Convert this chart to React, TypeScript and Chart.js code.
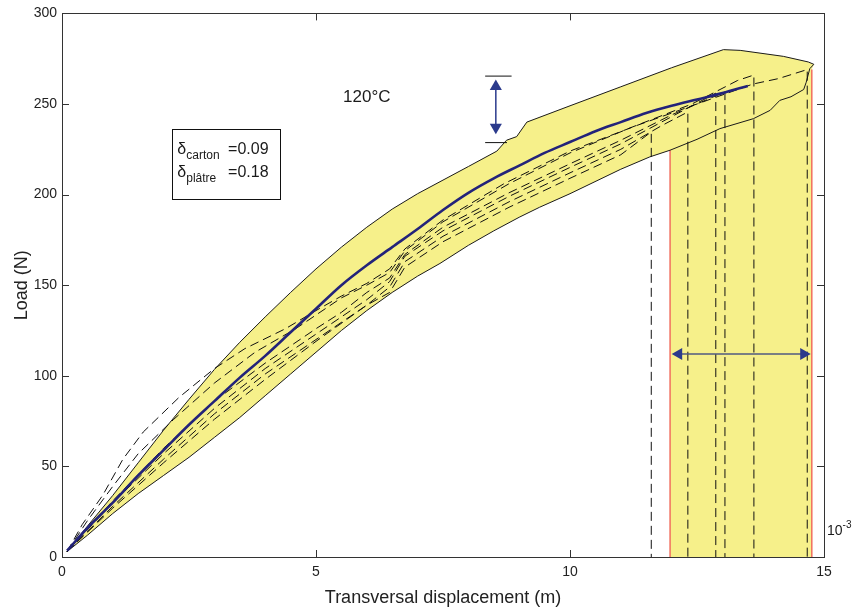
import React, { useEffect, useRef } from "react";
import { Chart, registerables } from "chart.js";

Chart.register(...registerables);
Chart.defaults.font.family = '"Liberation Sans", Arial, Helvetica, sans-serif';

// ---- axis ticks ----
const xTickValues = [0, 5, 10, 15];
const yTickValues = [0, 50, 100, 150, 200, 250, 300];

// ---- mean curve (solid blue) ----
const meanX = [0.1, 0.5, 1, 1.5, 2, 2.5, 3, 3.5, 4, 4.5, 5, 5.5, 6, 6.5, 7, 7.5, 8, 8.5, 9, 9.5, 10, 10.5, 11, 11.5, 12, 12.5, 13, 13.5];
const meanY = [3.5, 16, 30, 45, 59, 73, 86, 99, 111, 124, 137, 150, 161, 171, 181, 191.5, 201, 209, 216, 223, 229, 235, 240, 245, 249, 252.5, 256, 260];

// ---- confidence band ----
const upperX = [0.1, 0.5, 1, 1.5, 2, 2.5, 3, 3.5, 4, 4.5, 5, 5.5, 6, 6.5, 7, 7.5, 8, 8.56, 8.75, 8.95, 9.15, 10, 11, 12, 13.02, 13.35, 14.2, 14.69, 14.8];
const upperY = [3, 17, 34, 52, 70, 87, 103.5, 118.5, 132.5, 146, 159, 171, 182, 192, 200.5, 208, 215.5, 224, 230, 232, 240, 249, 259.5, 270, 280, 279.6, 276.3, 273.2, 271.9];
const rightX = [14.8, 14.72, 14.65, 14.6, 14.35, 14.13, 13.94, 13.61];
const rightY = [271.9, 269.5, 262, 258, 254, 252, 246.5, 241.9];
const lowerX = [13.61, 12.95, 12.5, 11.97, 11.57, 11, 10, 9.4, 9, 8.5, 8, 7.44, 7, 6.5, 6, 5.5, 5, 4.5, 4, 3.5, 3, 2.5, 2, 1.5, 1, 0.5, 0.1];
const lowerY = [241.9, 236.4, 230.5, 224.5, 220.8, 214, 200.5, 193, 187.5, 180, 172, 162, 155, 146, 136, 125, 113, 101, 89, 77, 66, 55, 45, 35, 24, 12, 3];

// ---- failure displacement range (red bounds) ----
const failX = [11.97, 14.76];
const failTopY = [224.5, 269];

// ---- sample curves (dashed), each ends with a drop to zero ----
const s1X = [0.1, 0.4, 0.8, 1.2, 1.6, 2.3, 3, 3.6, 4.4, 5, 5.5, 6, 6.45, 6.75, 7.5, 8.7, 10, 11.3, 12.5, 13.6, 14.1, 14.67, 14.67];
const s1Y = [3, 18, 34, 54, 69, 88, 104, 115, 126, 136, 144, 151, 159, 170, 186, 206, 224, 238, 250, 261, 264, 269, 0];
const s2X = [0.1, 0.5, 1, 1.5, 2.2, 3, 3.8, 4.6, 5.5, 6, 6.45, 6.75, 7.5, 8.8, 10, 11.2, 12.4, 13.3, 13.62, 13.62];
const s2Y = [3, 20, 39, 57, 76, 96, 113, 126, 143, 150, 157, 169, 185, 206, 223, 237, 250, 263, 266, 0];
const s3X = [0.1, 1, 2, 3, 4, 5, 5.5, 6, 6.45, 6.75, 7.5, 8.8, 10, 11, 12, 13.05, 13.05];
const s3Y = [3, 31, 60, 86, 107, 126, 135, 146, 154, 167, 182, 201, 217, 230, 244, 256.7, 0];
const s4X = [0.1, 1, 2, 3, 4, 5, 6, 6.45, 6.75, 7.5, 8.8, 10, 11, 12, 12.87, 12.87];
const s4Y = [3, 30, 57, 82, 104, 123, 142, 152, 166, 180, 199, 215, 228, 243, 256, 0];
const s5X = [0.1, 1, 2, 3, 4, 5, 6, 6.45, 6.75, 7.5, 8.8, 10, 11, 11.8, 12.32, 12.32];
const s5Y = [3, 28, 54, 79, 101, 120, 139, 149, 163, 177, 196, 212, 225, 238, 245.6, 0];
const s6X = [0.1, 1, 2, 3, 4, 5, 6, 6.45, 6.75, 7.5, 8.8, 10, 11, 11.6, 11.6];
const s6Y = [3, 27, 52, 76, 98, 119, 139, 146, 160, 174, 193, 209, 222, 234.6, 0];

// ---- annotation arrows ----
const vArrowX = [8.54, 8.54];
const vArrowY = [236, 260];
const vBarTopX = [8.33, 8.85];
const vBarTopY = [265.4, 265.4];
const vBarBotX = [8.33, 8.76];
const vBarBotY = [228.7, 228.7];
const hArrowX = [12.1, 14.65];
const hArrowY = [112, 112];
const headX = [8.54, 8.54, 12.14, 14.6];
const headY = [259.6, 237.2, 112, 112];
const headRot = [0, 180, 270, 90];

const pts = (xs: number[], ys: number[]) => xs.map((x, i) => ({ x, y: ys[i] }));

const YELLOW = "rgb(246,240,138)";
const NAVY = "#23237a";
const ARROW = "#2b3a8c";

const framePlugin = {
  id: "frame",
  afterDatasetsDraw(chart: any) {
    const { ctx, chartArea, scales } = chart;
    const { left, right, top, bottom } = chartArea;
    const x = scales.x;
    const y = scales.y;
    ctx.save();
    ctx.strokeStyle = "#333";
    ctx.lineWidth = 1;
    ctx.strokeRect(Math.round(left) + 0.5, Math.round(top) + 0.5, Math.round(right - left), Math.round(bottom - top));
    const tl = 7;
    ctx.beginPath();
    for (const v of xTickValues) {
      const px = Math.round(x.getPixelForValue(v)) + 0.5;
      ctx.moveTo(px, bottom);
      ctx.lineTo(px, bottom - tl);
      ctx.moveTo(px, top);
      ctx.lineTo(px, top + tl);
    }
    for (const v of yTickValues) {
      const py = Math.round(y.getPixelForValue(v)) + 0.5;
      ctx.moveTo(left, py);
      ctx.lineTo(left + tl, py);
      ctx.moveTo(right, py);
      ctx.lineTo(right - tl, py);
    }
    ctx.stroke();

    ctx.fillStyle = "#1a1a1a";
    // temperature label
    ctx.font = '17px "Liberation Sans", Arial, sans-serif';
    ctx.textAlign = "center";
    ctx.textBaseline = "middle";
    ctx.fillText("120°C", x.getPixelForValue(6.0), y.getPixelForValue(253.7));

    // parameter box
    const bx1 = Math.round(x.getPixelForValue(2.16)) + 0.5;
    const by1 = Math.round(y.getPixelForValue(236.4)) + 0.5;
    const bx2 = Math.round(x.getPixelForValue(4.29)) + 0.5;
    const by2 = Math.round(y.getPixelForValue(197.8)) + 0.5;
    ctx.strokeStyle = "#111";
    ctx.strokeRect(bx1, by1, bx2 - bx1, by2 - by1);
    ctx.textAlign = "left";
    ctx.textBaseline = "alphabetic";
    const rows = [
      { sub: "carton", val: "=0.09", yv: 222.6 },
      { sub: "plâtre", val: "=0.18", yv: 209.6 },
    ];
    for (const r of rows) {
      const bl = y.getPixelForValue(r.yv);
      const sx = x.getPixelForValue(2.27);
      ctx.font = '16px "Liberation Sans", Arial, sans-serif';
      ctx.fillText("δ", sx, bl);
      const w = ctx.measureText("δ").width;
      ctx.font = '12px "Liberation Sans", Arial, sans-serif';
      ctx.fillText(r.sub, sx + w, bl + 5);
      ctx.font = '16px "Liberation Sans", Arial, sans-serif';
      ctx.fillText(r.val, x.getPixelForValue(3.27), bl);
    }

    // axis multiplier
    const mx = x.getPixelForValue(15.06);
    const my = y.getPixelForValue(12.1);
    ctx.font = '14px "Liberation Sans", Arial, sans-serif';
    ctx.fillText("10", mx, my);
    const w10 = ctx.measureText("10").width;
    ctx.font = '10px "Liberation Sans", Arial, sans-serif';
    ctx.fillText("-3", mx + w10, my - 7);
    ctx.restore();
  },
};

export default function App() {
  const ref = useRef<HTMLCanvasElement>(null);

  useEffect(() => {
    const fillPoly = [
      ...pts(upperX, upperY),
      { x: failX[1], y: failTopY[1] },
      { x: failX[1], y: 0 },
      { x: failX[0], y: 0 },
      { x: failX[0], y: failTopY[0] },
      ...pts(lowerX, lowerY).filter((p) => p.x < failX[0]),
    ];
    const outline = [...pts(upperX, upperY), ...pts(rightX, rightY).slice(1), ...pts(lowerX, lowerY).slice(1)];
    const samples = [
      [s1X, s1Y],
      [s2X, s2Y],
      [s3X, s3Y],
      [s4X, s4Y],
      [s5X, s5Y],
      [s6X, s6Y],
    ];

    const datasets: any[] = [
      { data: fillPoly, borderWidth: 0, borderColor: "rgba(0,0,0,0)", backgroundColor: YELLOW, fill: "shape", order: 10 },
      { data: [{ x: failX[0], y: 0 }, { x: failX[0], y: failTopY[0] }], borderColor: "#f2705f", borderWidth: 1.5, order: 9 },
      { data: [{ x: failX[1], y: 0 }, { x: failX[1], y: failTopY[1] }], borderColor: "#f2705f", borderWidth: 1.5, order: 9 },
      { data: outline, borderColor: "#1a1a1a", borderWidth: 1, order: 8 },
      ...samples.map(([sx, sy]) => ({
        data: pts(sx, sy),
        borderColor: "#111",
        borderWidth: 1,
        borderDash: [9, 5],
        order: 5,
      })),
      { data: pts(meanX, meanY), borderColor: NAVY, borderWidth: 2.6, cubicInterpolationMode: "monotone", order: 2 },
      { data: pts(vArrowX, vArrowY), borderColor: ARROW, borderWidth: 1.5, order: 1 },
      { data: pts(vBarTopX, vBarTopY), borderColor: "#111", borderWidth: 1, order: 1 },
      { data: pts(vBarBotX, vBarBotY), borderColor: "#111", borderWidth: 1, order: 1 },
      { data: pts(hArrowX, hArrowY), borderColor: "#4f5a80", borderWidth: 1.5, order: 1 },
      {
        data: pts(headX, headY),
        showLine: false,
        pointStyle: "triangle",
        pointRadius: 7,
        pointRotation: headRot,
        pointBackgroundColor: ARROW,
        pointBorderColor: ARROW,
        pointBorderWidth: 0,
        order: 0,
      },
    ];

    const chart = new Chart(ref.current as HTMLCanvasElement, {
      type: "line",
      data: { datasets },
      options: {
        responsive: false,
        devicePixelRatio: 1,
        animation: false,
        layout: { padding: { top: 13, right: 31, left: 0, bottom: 0 } },
        elements: { point: { radius: 0, hoverRadius: 0 }, line: { tension: 0 } },
        plugins: { legend: { display: false }, tooltip: { enabled: false } },
        events: [],
        scales: {
          x: {
            type: "linear",
            min: 0,
            max: 15,
            ticks: { stepSize: 5, font: { size: 14 }, color: "#222", padding: 7, maxRotation: 0 },
            grid: { display: false, drawTicks: false },
            border: { display: false },
            title: {
              display: true,
              text: "Transversal displacement (m)",
              font: { size: 18 },
              color: "#222",
              padding: { top: 0, bottom: 0 },
            },
            afterFit: (s: any) => {
              s.height = 52;
            },
          },
          y: {
            type: "linear",
            min: 0,
            max: 300,
            ticks: { stepSize: 50, font: { size: 14 }, color: "#222", padding: 5 },
            grid: { display: false, drawTicks: false },
            border: { display: false },
            title: {
              display: true,
              text: "Load (N)",
              font: { size: 18 },
              color: "#222",
              padding: { top: 11, bottom: 0 },
            },
            afterFit: (s: any) => {
              s.width = 62;
            },
          },
        },
      },
      plugins: [framePlugin],
    });
    return () => chart.destroy();
  }, []);

  return (
    <div style={{ position: "fixed", left: 0, top: 0, width: 855, height: 609, background: "#fff" }}>
      <canvas ref={ref} width={855} height={609} style={{ display: "block", width: 855, height: 609 }} />
    </div>
  );
}
